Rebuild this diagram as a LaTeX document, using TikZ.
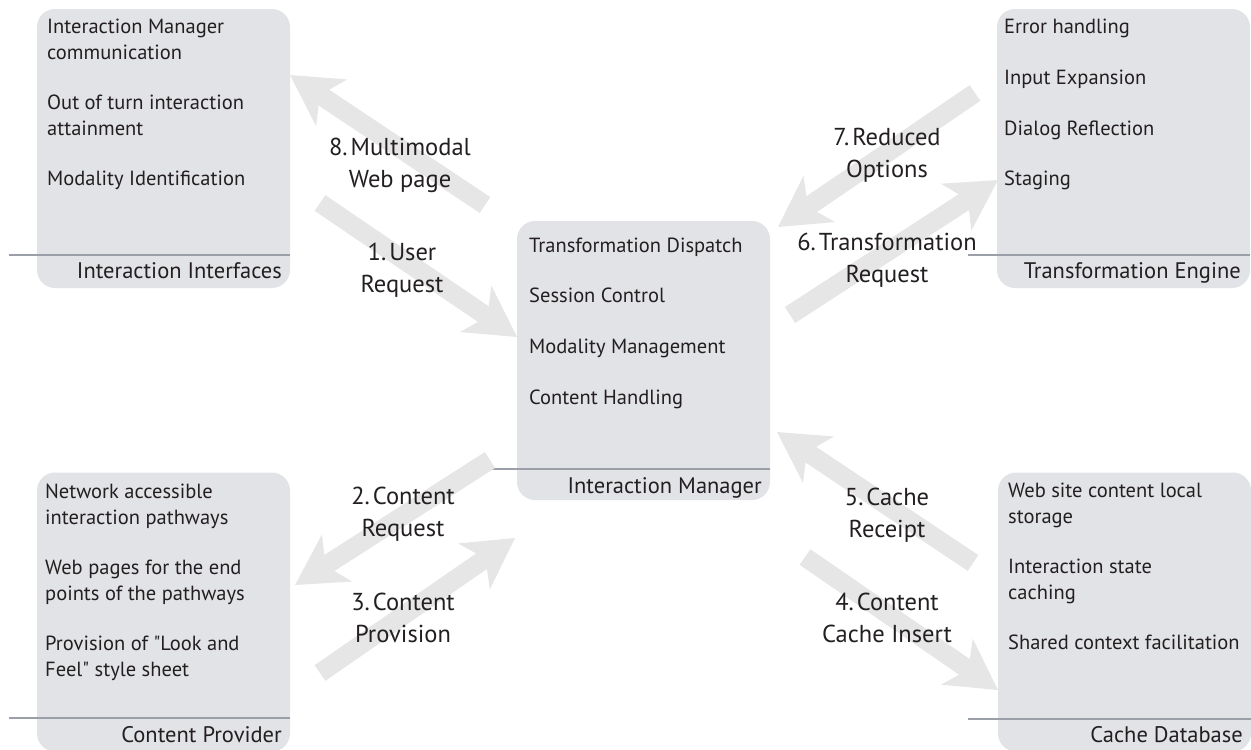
\documentclass[tikz,border=0pt]{standalone}
\usepackage{fontspec}
\setmainfont{PT Sans}
\usetikzlibrary{arrows.meta}
\definecolor{boxfill}{RGB}{226,227,230}
\definecolor{rulegray}{RGB}{155,160,168}
\definecolor{flowgray}{RGB}{230,230,230}
\definecolor{ink}{RGB}{35,31,32}

\begin{document}
\begin{tikzpicture}[x=1pt,y=-1pt,
  panel/.style={fill=boxfill, rounded corners=18pt, minimum width=253pt,
    minimum height=279pt, inner sep=0pt, draw=none},
  sep/.style={draw=rulegray, line width=1.4pt},
  % multi-line nodes: the base anchor sits on the last line
  item/.style={anchor=base west, inner sep=0pt, text=ink,
    font=\fontsize{20.5}{25.5}\selectfont, align=left},
  title/.style={anchor=base east, inner sep=0pt, text=ink,
    font=\fontsize{22.5}{26}\selectfont},
  flowlabel/.style={anchor=base, inner sep=0pt, text=ink,
    font=\fontsize{24.5}{32}\selectfont, align=center},
  flow/.style={draw=flowgray, line width=19pt,
    -{Stealth[length=50pt,width=56pt,inset=14pt,line width=0pt]}}
]
\useasboundingbox (0,0) rectangle (1251,750);

% ---------------- flow end points ----------------
\coordinate (webFrom)   at (485,205);
\coordinate (webTo)     at (290,75);
\coordinate (userFrom)  at (320,203);
\coordinate (userTo)    at (517,337);
\coordinate (redFrom)   at (975,93);
\coordinate (redTo)     at (778,227);
\coordinate (trFrom)    at (790,315);
\coordinate (trTo)      at (998,180);
\coordinate (creqFrom)  at (490,460);
\coordinate (creqTo)    at (295,585);
\coordinate (cprovFrom) at (320,673);
\coordinate (cprovTo)   at (515,538);
\coordinate (recFrom)   at (973,563);
\coordinate (recTo)     at (777,432);
\coordinate (insFrom)   at (805,557);
\coordinate (insTo)     at (998,690);

% ---------------- panels ----------------
\node[panel] (ifc) at (163.5,148.5) {};
\node[panel] (mgr) at (643.5,360.5) {};
\node[panel] (eng) at (1123.5,148.5) {};
\node[panel] (prov) at (163.5,612) {};
\node[panel] (cache) at (1124.5,612) {};

% separators
\draw[sep] (9,255) -- (ifc.east |- 0,255);
\draw[sep] (489,469) -- (mgr.east |- 0,469);
\draw[sep] (968,255) -- (eng.east |- 0,255);
\draw[sep] (9,718) -- (prov.east |- 0,718);
\draw[sep] (968,719) -- (cache.east |- 0,719);

% panel titles
\node[title] (ifcT) at (282,278) {Interaction Interfaces};
\node[title] (mgrT) at (762,493) {Interaction Manager};
\node[title] (engT) at (1241,278) {Transformation Engine};
\node[title] (provT) at (282,742) {Content Provider};
\node[title] (cacheT) at (1243,742) {Cache Database};

% panel items
\node[item] (ifc1) at (47,59) {Interaction Manager\\communication};
\node[item] (ifc2) at (47,135) {Out of turn interaction\\attainment};
\node[item] (ifc3) at (47,185) {Modality Identification};

\node[item] (mgr1) at (529,252) {Transformation Dispatch};
\node[item] (mgr2) at (529,302) {Session Control};
\node[item] (mgr3) at (529,353) {Modality Management};
\node[item] (mgr4) at (529,404) {Content Handling};

\node[item] (eng1) at (1004,33) {Error handling};
\node[item] (eng2) at (1004,84) {Input Expansion};
\node[item] (eng3) at (1004,135) {Dialog Reflection};
\node[item] (eng4) at (1004,185) {Staging};

\node[item] (prov1) at (45,524) {Network accessible\\interaction pathways};
\node[item] (prov2) at (45,600) {Web pages for the end\\points of the pathways};
\node[item] (prov3) at (45,676) {Provision of \textquotedbl Look and\\Feel\textquotedbl{} style sheet};

\node[item] (cache1) at (1008,523) {Web site content local\\storage};
\node[item] (cache2) at (1008,599) {Interaction state\\caching};
\node[item] (cache3) at (1008,649) {Shared context facilitation};

% ---------------- flow arrows ----------------
\draw[flow] (webFrom) -- (webTo);
\draw[flow] (userFrom) -- (userTo);
\draw[flow] (redFrom) -- (redTo);
\draw[flow] (trFrom) -- (trTo);
\draw[flow] (creqFrom) -- (creqTo);
\draw[flow] (cprovFrom) -- (cprovTo);
\draw[flow] (recFrom) -- (recTo);
\draw[flow] (insFrom) -- (insTo);

% flow labels
\node[flowlabel] (webL) at (400,187) {8.\kern3pt Multimodal\\Web page};
\node[flowlabel] (userL) at (402,292) {1.\kern3pt User\\Request};
\node[flowlabel] (redL) at (887,177) {7.\kern3pt Reduced\\Options};
\node[flowlabel] (trL) at (887,282) {6.\kern3pt Transformation\\Request};
\node[flowlabel] (creqL) at (403,536) {2.\kern3pt Content\\Request};
\node[flowlabel] (cprovL) at (403,642) {3.\kern3pt Content\\Provision};
\node[flowlabel] (recL) at (887,537) {5.\kern3pt Cache\\Receipt};
\node[flowlabel] (insL) at (887,642) {4.\kern3pt Content\\Cache Insert};
\end{tikzpicture}
\end{document}
